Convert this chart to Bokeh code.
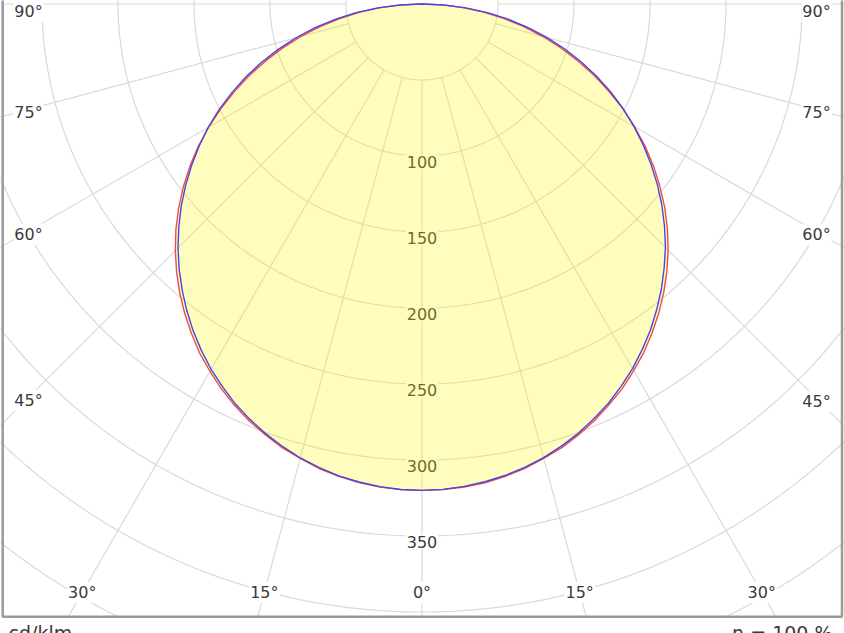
import numpy as np
from bokeh.plotting import figure
from bokeh.models import Range1d
from bokeh.embed import file_html
from bokeh.resources import INLINE
from bokeh.core.properties import value

# ---------------- data (cd/klm) ----------------
angles_deg = [a / 2 for a in range(-180, 185, 5)]  # -90 .. 90 step 2.5

red_cdklm = [0, 13.6, 27.3, 41, 55, 68.7, 82.5, 96, 109.5, 123, 136, 149.3, 162, 174.6, 186.5, 198, 209,
             219.6, 229.5, 239, 248, 256.5, 264.5, 272.3, 279, 285.6, 291.5, 297, 301.5, 306, 309.5, 313,
             315.5, 317.6, 319, 319.8,
             320,
             319.7, 319, 317.7, 315.5, 312.9, 309.5, 306, 301.5, 296.6, 291, 285.3, 278.5, 271.7, 264, 256,
             247.5, 238.5, 229, 219, 208.5, 197.3, 186, 174, 161.5, 148.8, 135.5, 122.5, 109, 95.6, 82, 68.3,
             54.5, 40.8, 27, 13.5, 0]

blue_cdklm = [0, 14.6, 29.2, 43.8, 58, 72, 85.8, 99.2, 112.5, 125.5, 138, 150.5, 162.5, 173.8, 185, 196,
              206.8, 217, 227, 236.5, 245.5, 254.2, 262.5, 270.2, 277.5, 284, 290.4, 295.8, 300.8, 305.2,
              309.2, 312.4, 315.2, 317.2, 318.7, 319.7,
              320,
              319.6, 318.6, 317, 315, 312.2, 309, 305, 300.6, 295.4, 290, 283.6, 277, 269.6, 262, 253.6, 245,
              235.8, 226.5, 216.4, 206, 195.2, 184, 172.6, 161, 149.2, 137, 124.5, 111.5, 98.5, 85, 71.5,
              57.5, 43.5, 29, 14.5, 0]

ring_values = [50, 100, 150, 200, 250, 300, 350, 400, 450, 500]
ring_label_values = [100, 150, 200, 250, 300, 350]
spoke_angles = [-90, -75, -60, -45, -30, -15, 0, 15, 30, 45, 60, 75, 90]
side_label_angles = [45, 60, 75, 90]
bottom_label_angles = [-30, -15, 0, 15, 30]
unit_label = "cd/klm"
eta_label = "\u03b7 = 100 %"

# ---------------- layout ----------------
W, H = 844, 633
K = 1.52             # px per cd/klm
CX, CY = 421.5, 3.5  # centre in px
FRAME_BOTTOM = 616.3
FRAME_LEFT = 2.2
FRAME_RIGHT = 841.5


def px_x(px):
    return (px - CX) / K


def px_y(py):
    return -(py - CY) / K


p = figure(width=W, height=H, output_backend="svg", toolbar_location=None,
           x_range=Range1d(px_x(0), px_x(W)), y_range=Range1d(px_y(H), px_y(0)),
           x_axis_type=None, y_axis_type=None, min_border=0,
           outline_line_color=None, background_fill_color="white",
           border_fill_color="white")
p.grid.visible = False

GRID = "#d9d9d9"

# rings
t = np.radians(np.linspace(-180, 180, 721))
p.multi_line(xs=[list(r * np.sin(t)) for r in ring_values],
             ys=[list(-r * np.cos(t)) for r in ring_values],
             line_color=GRID, line_width=1.2)

# spokes
r_in, r_out = 50, 900
sa = np.radians(spoke_angles)
p.multi_line(xs=[[r_in * np.sin(a), r_out * np.sin(a)] for a in sa],
             ys=[[-r_in * np.cos(a), -r_out * np.cos(a)] for a in sa],
             line_color=GRID, line_width=1.2)

FONT = value("DejaVu Sans")
TXT = "#3a3a3a"

# angle labels: sides
sx, sy, st = [], [], []
for a in side_label_angles:
    for sgn, dx in ((-1, 393.5), (1, 394.5)):
        ar = np.radians(a)
        y_px = max(CY + dx * np.cos(ar) / np.sin(ar) + 3, 11)
        sx.append(px_x(CX + sgn * dx))
        sy.append(px_y(y_px))
        st.append(f"{a}\u00b0")
# angle labels: bottom
for a in bottom_label_angles:
    ar = np.radians(a)
    x_px = CX + (592 - CY) * np.tan(ar)
    sx.append(px_x(x_px))
    sy.append(px_y(592))
    st.append(f"{abs(a)}\u00b0")
# ring labels
for v in ring_label_values:
    sx.append(0)
    sy.append(-v - 6 / K)
    st.append(str(v))

p.text(x=sx, y=sy, text=st, text_font=FONT, text_font_size="16px",
       text_color=TXT, text_align="center", text_baseline="middle",
       background_fill_color="white", padding=1)

# curves
ang = np.radians(angles_deg)
rx = np.array(red_cdklm) * np.sin(ang)
ry = -np.array(red_cdklm) * np.cos(ang)
bx = np.array(blue_cdklm) * np.sin(ang)
by = -np.array(blue_cdklm) * np.cos(ang)

p.patch(x=list(rx), y=list(ry), fill_color="#fff600", fill_alpha=0.26, line_color=None)
p.line(x=list(rx), y=list(ry), line_color="#f04a4a", line_width=1.4)
p.line(x=list(bx), y=list(by), line_color="#4646e6", line_width=1.4)

# white band below frame
x0, x1 = px_x(-5), px_x(W + 5)
p.quad(left=[x0], right=[x1], bottom=[px_y(H + 5)], top=[px_y(FRAME_BOTTOM)],
       fill_color="white", line_color=None)

# frame
BORDER = "#9a9a9a"
p.line(x=[px_x(FRAME_LEFT), px_x(FRAME_LEFT), px_x(FRAME_RIGHT), px_x(FRAME_RIGHT)],
       y=[px_y(-5), px_y(FRAME_BOTTOM), px_y(FRAME_BOTTOM), px_y(-5)],
       line_color=BORDER, line_width=2.5)

# footer texts
p.text(x=[px_x(8)], y=[px_y(621)], text=[unit_label], text_font=FONT, text_font_size="19px",
       text_color=TXT, text_align="left", text_baseline="top")
p.text(x=[px_x(832)], y=[px_y(621)], text=[eta_label], text_font=FONT, text_font_size="19px",
       text_color=TXT, text_align="right", text_baseline="top")

open("out.html", "w").write(file_html(p, INLINE))
